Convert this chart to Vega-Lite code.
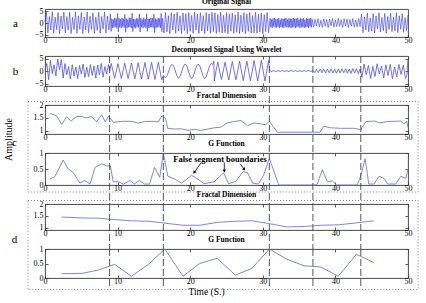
{
"$schema": "https://vega.github.io/schema/vega-lite/v6.json",
"background": "white",
"padding": {"left": 2, "top": -3, "right": 2, "bottom": 2},
"autosize": {"type": "pad"},
"datasets": {
"sa": [{"t":0.0,"v":0.5},{"t":0.2,"v":4.6},{"t":0.4,"v":-4.2},{"t":0.6,"v":2.8},{"t":0.8,"v":-3.0},{"t":1.0,"v":4.8},{"t":1.2,"v":-4.4},{"t":1.4,"v":2.5},{"t":1.6,"v":-2.8},{"t":1.8,"v":4.5},{"t":2.0,"v":-4.6},{"t":2.2,"v":3.0},{"t":2.4,"v":-2.6},{"t":2.6,"v":4.7},{"t":2.8,"v":-4.3},{"t":3.0,"v":2.7},{"t":3.2,"v":-3.1},{"t":3.4,"v":4.6},{"t":3.6,"v":-4.5},{"t":3.8,"v":2.4},{"t":4.0,"v":-2.9},{"t":4.2,"v":4.8},{"t":4.4,"v":-4.4},{"t":4.6,"v":3.1},{"t":4.8,"v":-2.7},{"t":5.0,"v":4.5},{"t":5.2,"v":-4.6},{"t":5.4,"v":2.6},{"t":5.6,"v":-3.0},{"t":5.8,"v":4.7},{"t":6.0,"v":-4.2},{"t":6.2,"v":2.9},{"t":6.4,"v":-2.8},{"t":6.6,"v":4.4},{"t":6.8,"v":-4.5},{"t":7.0,"v":2.5},{"t":7.2,"v":-3.2},{"t":7.4,"v":4.6},{"t":7.6,"v":-4.3},{"t":7.8,"v":2.8},{"t":8.0,"v":-2.6},{"t":8.2,"v":4.7},{"t":8.4,"v":-4.4},{"t":8.6,"v":3.0},{"t":8.8,"v":-2.9},
{"t":8.9,"v":0.3},{"t":9.0,"v":3.9},{"t":9.1,"v":-3.6},{"t":9.2,"v":1.8},{"t":9.3,"v":-2.1},{"t":9.4,"v":1.5},{"t":9.5,"v":-1.9},{"t":9.6,"v":2.2},{"t":9.7,"v":-1.6},{"t":9.8,"v":1.9},{"t":9.9,"v":-2.3},{"t":10.0,"v":4.1},{"t":10.1,"v":-3.8},{"t":10.2,"v":2.0},{"t":10.3,"v":-1.8},{"t":10.4,"v":1.6},{"t":10.5,"v":-2.2},{"t":10.6,"v":2.1},{"t":10.7,"v":-1.5},{"t":10.8,"v":1.8},{"t":10.9,"v":-2.0},{"t":11.0,"v":3.7},{"t":11.1,"v":-4.0},{"t":11.2,"v":1.9},{"t":11.3,"v":-2.2},{"t":11.4,"v":1.4},{"t":11.5,"v":-1.8},{"t":11.6,"v":2.3},{"t":11.7,"v":-1.7},{"t":11.8,"v":2.0},{"t":11.9,"v":-2.1},{"t":12.0,"v":4.2},{"t":12.1,"v":-3.7},{"t":12.2,"v":1.7},{"t":12.3,"v":-2.0},{"t":12.4,"v":1.6},{"t":12.5,"v":-2.3},{"t":12.6,"v":2.0},{"t":12.7,"v":-1.6},{"t":12.8,"v":1.9},{"t":12.9,"v":-1.9},{"t":13.0,"v":3.9},{"t":13.1,"v":-3.9},{"t":13.2,"v":2.1},{"t":13.3,"v":-1.8},{"t":13.4,"v":1.5},{"t":13.5,"v":-2.1},{"t":13.6,"v":2.2},{"t":13.7,"v":-1.5},{"t":13.8,"v":1.8},{"t":13.9,"v":-2.2},{"t":14.0,"v":4.0},{"t":14.1,"v":-3.6},{"t":14.2,"v":1.8},{"t":14.3,"v":-2.1},{"t":14.4,"v":1.7},{"t":14.5,"v":-1.9},{"t":14.6,"v":2.1},{"t":14.7,"v":-1.7},{"t":14.8,"v":2.0},{"t":14.9,"v":-2.0},{"t":15.0,"v":3.8},{"t":15.1,"v":-4.1},{"t":15.2,"v":1.9},{"t":15.3,"v":-2.2},{"t":15.4,"v":1.5},{"t":15.5,"v":-1.8},{"t":15.6,"v":2.2},{"t":15.7,"v":-1.6},{"t":15.8,"v":1.9},{"t":15.9,"v":-2.1},{"t":16.0,"v":4.1},{"t":16.1,"v":-3.8},{"t":16.2,"v":2.0},
{"t":16.4,"v":-4.3},{"t":16.6,"v":4.5},{"t":16.8,"v":-3.8},{"t":17.0,"v":3.2},{"t":17.2,"v":-4.6},{"t":17.4,"v":4.4},{"t":17.6,"v":-3.0},{"t":17.8,"v":3.9},{"t":18.0,"v":-4.4},{"t":18.2,"v":4.6},{"t":18.4,"v":-3.5},{"t":18.6,"v":3.1},{"t":18.8,"v":-4.5},{"t":19.0,"v":4.3},{"t":19.2,"v":-3.2},{"t":19.4,"v":4.0},{"t":19.6,"v":-4.6},{"t":19.8,"v":4.5},{"t":20.0,"v":-3.6},{"t":20.2,"v":3.3},{"t":20.4,"v":-4.4},{"t":20.6,"v":4.6},{"t":20.8,"v":-3.1},{"t":21.0,"v":3.8},{"t":21.2,"v":-4.5},{"t":21.4,"v":4.4},{"t":21.6,"v":-3.4},{"t":21.8,"v":3.2},{"t":22.0,"v":-4.6},{"t":22.2,"v":4.5},{"t":22.4,"v":-3.3},{"t":22.6,"v":3.9},{"t":22.8,"v":-4.4},{"t":23.0,"v":4.6},{"t":23.2,"v":-3.7},
{"t":23.4,"v":4.4},{"t":23.6,"v":-4.5},{"t":23.8,"v":3.6},{"t":24.0,"v":-3.9},{"t":24.2,"v":4.6},{"t":24.4,"v":-4.3},{"t":24.6,"v":3.3},{"t":24.8,"v":-4.1},{"t":25.0,"v":4.5},{"t":25.2,"v":-4.6},{"t":25.4,"v":3.8},{"t":25.6,"v":-3.5},{"t":25.8,"v":4.3},{"t":26.0,"v":-4.4},{"t":26.2,"v":3.5},{"t":26.4,"v":-4.0},{"t":26.6,"v":4.6},{"t":26.8,"v":-4.5},{"t":27.0,"v":3.4},{"t":27.2,"v":-3.8},{"t":27.4,"v":4.4},{"t":27.6,"v":-4.6},{"t":27.8,"v":3.9},{"t":28.0,"v":-3.6},{"t":28.2,"v":4.5},{"t":28.4,"v":-4.3},{"t":28.6,"v":3.2},{"t":28.8,"v":-4.2},{"t":29.0,"v":4.6},{"t":29.2,"v":-4.4},{"t":29.4,"v":3.7},{"t":29.6,"v":-3.9},{"t":29.8,"v":4.3},{"t":30.0,"v":-4.6},{"t":30.2,"v":3.6},{"t":30.4,"v":-3.7},{"t":30.6,"v":4.5},{"t":30.8,"v":-4.2},
{"t":31.0,"v":2.0},{"t":31.1,"v":-1.8},{"t":31.2,"v":1.5},{"t":31.3,"v":-2.1},{"t":31.4,"v":1.9},{"t":31.5,"v":-1.4},{"t":31.6,"v":2.2},{"t":31.7,"v":-1.9},{"t":31.8,"v":1.6},{"t":31.9,"v":-2.0},{"t":32.0,"v":1.8},{"t":32.1,"v":-1.6},{"t":32.2,"v":2.1},{"t":32.3,"v":-2.2},{"t":32.4,"v":1.4},{"t":32.5,"v":-1.7},{"t":32.6,"v":2.0},{"t":32.7,"v":-1.9},{"t":32.8,"v":1.7},{"t":32.9,"v":-2.1},{"t":33.0,"v":1.9},{"t":33.1,"v":-1.5},{"t":33.2,"v":2.2},{"t":33.3,"v":-1.8},{"t":33.4,"v":1.5},{"t":33.5,"v":-2.0},{"t":33.6,"v":2.0},{"t":33.7,"v":-1.7},{"t":33.8,"v":1.8},{"t":33.9,"v":-2.2},{"t":34.0,"v":1.6},{"t":34.1,"v":-1.9},{"t":34.2,"v":2.1},{"t":34.3,"v":-1.6},{"t":34.4,"v":1.7},{"t":34.5,"v":-2.1},{"t":34.6,"v":1.9},{"t":34.7,"v":-1.8},{"t":34.8,"v":2.2},{"t":34.9,"v":-1.5},{"t":35.0,"v":1.5},{"t":35.1,"v":-2.0},{"t":35.2,"v":2.0},{"t":35.3,"v":-1.9},{"t":35.4,"v":1.8},{"t":35.5,"v":-1.6},{"t":35.6,"v":2.1},{"t":35.7,"v":-2.1},{"t":35.8,"v":1.4},{"t":35.9,"v":-1.8},{"t":36.0,"v":2.0},{"t":36.1,"v":-1.7},{"t":36.2,"v":1.7},{"t":36.3,"v":-2.2},{"t":36.4,"v":1.9},{"t":36.5,"v":-1.5},{"t":36.6,"v":2.2},{"t":36.7,"v":-1.9},{"t":36.8,"v":1.6},
{"t":37.0,"v":-1.8},{"t":37.2,"v":1.6},{"t":37.4,"v":-1.3},{"t":37.6,"v":1.9},{"t":37.8,"v":-1.7},{"t":38.0,"v":1.2},{"t":38.2,"v":-1.9},{"t":38.4,"v":1.8},{"t":38.6,"v":-1.4},{"t":38.8,"v":1.5},{"t":39.0,"v":-2.0},{"t":39.2,"v":1.7},{"t":39.4,"v":-1.2},{"t":39.6,"v":1.9},{"t":39.8,"v":-1.8},{"t":40.0,"v":1.3},{"t":40.2,"v":-1.6},{"t":40.4,"v":2.0},{"t":40.6,"v":-1.5},{"t":40.8,"v":1.4},{"t":41.0,"v":-1.9},{"t":41.2,"v":1.8},{"t":41.4,"v":-1.3},{"t":41.6,"v":1.7},{"t":41.8,"v":-2.0},{"t":42.0,"v":1.5},{"t":42.2,"v":-1.4},{"t":42.4,"v":1.9},{"t":42.6,"v":-1.8},{"t":42.8,"v":1.3},{"t":43.0,"v":-1.7},{"t":43.2,"v":2.0},{"t":43.4,"v":-1.6},
{"t":43.6,"v":3.8},{"t":43.8,"v":-4.2},{"t":44.0,"v":2.6},{"t":44.2,"v":-3.0},{"t":44.4,"v":4.3},{"t":44.6,"v":-3.8},{"t":44.8,"v":2.2},{"t":45.0,"v":-3.5},{"t":45.2,"v":4.0},{"t":45.4,"v":-4.3},{"t":45.6,"v":3.0},{"t":45.8,"v":-2.6},{"t":46.0,"v":4.4},{"t":46.2,"v":-3.9},{"t":46.4,"v":2.4},{"t":46.6,"v":-3.3},{"t":46.8,"v":4.1},{"t":47.0,"v":-4.4},{"t":47.2,"v":2.8},{"t":47.4,"v":-2.8},{"t":47.6,"v":4.2},{"t":47.8,"v":-3.7},{"t":48.0,"v":2.5},{"t":48.2,"v":-3.4},{"t":48.4,"v":4.4},{"t":48.6,"v":-4.2},{"t":48.8,"v":3.1},{"t":49.0,"v":-2.7},{"t":49.2,"v":4.0},{"t":49.4,"v":-4.0},{"t":49.6,"v":2.3},{"t":49.8,"v":-3.2},{"t":50.0,"v":3.5}],
"sb": [{"t":0.0,"v":0.5},{"t":0.25,"v":3.0},{"t":0.5,"v":-3.5},{"t":0.75,"v":4.3},{"t":1.0,"v":-1.0},{"t":1.25,"v":2.5},{"t":1.5,"v":-2.0},{"t":1.75,"v":4.8},{"t":2.0,"v":0.5},{"t":2.25,"v":4.6},{"t":2.5,"v":-2.8},{"t":2.75,"v":3.0},{"t":3.0,"v":-1.5},{"t":3.25,"v":1.8},{"t":3.5,"v":-3.2},{"t":3.75,"v":2.5},{"t":4.0,"v":-2.0},{"t":4.25,"v":1.6},{"t":4.5,"v":-3.0},{"t":4.75,"v":2.2},{"t":5.0,"v":-1.2},{"t":5.25,"v":2.8},{"t":5.5,"v":-2.6},{"t":5.75,"v":1.5},{"t":6.0,"v":-2.2},{"t":6.25,"v":2.6},{"t":6.5,"v":-1.8},{"t":6.75,"v":2.0},{"t":7.0,"v":-2.8},{"t":7.25,"v":2.4},{"t":7.5,"v":-1.5},{"t":7.75,"v":3.0},{"t":8.0,"v":-2.5},{"t":8.25,"v":1.8},{"t":8.5,"v":-1.2},{"t":8.75,"v":2.6},
{"t":8.9,"v":0.0},{"t":9.13,"v":3.0},{"t":9.36,"v":0.0},{"t":9.59,"v":-2.9},{"t":9.83,"v":0.0},{"t":10.06,"v":3.0},{"t":10.29,"v":0.0},{"t":10.52,"v":-3.0},{"t":10.75,"v":0.0},{"t":10.98,"v":3.1},{"t":11.21,"v":0.0},{"t":11.44,"v":-3.0},{"t":11.68,"v":0.0},{"t":11.91,"v":3.2},{"t":12.14,"v":0.0},{"t":12.37,"v":-3.1},{"t":12.6,"v":0.0},{"t":12.83,"v":3.3},{"t":13.06,"v":0.0},{"t":13.29,"v":-3.2},{"t":13.53,"v":0.0},{"t":13.76,"v":3.4},{"t":13.99,"v":0.0},{"t":14.22,"v":-3.3},{"t":14.45,"v":0.0},{"t":14.68,"v":3.5},{"t":14.91,"v":0.0},{"t":15.14,"v":-3.4},{"t":15.38,"v":0.0},{"t":15.61,"v":3.5},{"t":15.84,"v":0.0},{"t":16.07,"v":-3.5},
{"t":16.3,"v":-1.8},{"t":16.6,"v":-2.7},{"t":16.83,"v":-1.9},{"t":17.05,"v":0.0},{"t":17.28,"v":1.9},{"t":17.5,"v":2.7},{"t":17.73,"v":1.9},{"t":17.95,"v":0.0},{"t":18.18,"v":-2.0},{"t":18.4,"v":-2.9},{"t":18.63,"v":-2.0},{"t":18.85,"v":0.0},{"t":19.08,"v":2.0},{"t":19.3,"v":2.8},{"t":19.53,"v":2.0},{"t":19.75,"v":0.0},{"t":19.98,"v":-2.1},{"t":20.2,"v":-3.0},{"t":20.43,"v":-2.1},{"t":20.65,"v":0.0},{"t":20.88,"v":2.0},{"t":21.1,"v":2.8},{"t":21.33,"v":2.0},{"t":21.55,"v":0.0},{"t":21.78,"v":-2.1},{"t":22.0,"v":-3.0},{"t":22.23,"v":-2.1},{"t":22.45,"v":0.0},{"t":22.68,"v":2.1},{"t":22.9,"v":3.0},{"t":23.1,"v":2.6},{"t":23.25,"v":4.0},
{"t":23.32,"v":-4.0},{"t":23.55,"v":0.0},{"t":23.8,"v":3.6},{"t":24.05,"v":0.0},{"t":24.3,"v":-3.4},{"t":24.55,"v":0.0},{"t":24.8,"v":3.5},{"t":25.05,"v":0.0},{"t":25.3,"v":-3.6},{"t":25.55,"v":0.0},{"t":25.8,"v":3.8},{"t":26.05,"v":0.0},{"t":26.3,"v":-3.5},{"t":26.55,"v":0.0},{"t":26.8,"v":4.0},{"t":27.05,"v":0.0},{"t":27.3,"v":-3.8},{"t":27.55,"v":0.0},{"t":27.8,"v":4.0},{"t":28.05,"v":0.0},{"t":28.3,"v":-3.9},{"t":28.55,"v":0.0},{"t":28.8,"v":4.2},{"t":29.05,"v":0.0},{"t":29.3,"v":-4.0},{"t":29.55,"v":0.0},{"t":29.8,"v":4.3},{"t":30.05,"v":0.0},{"t":30.3,"v":-4.0},{"t":30.55,"v":0.0},{"t":30.8,"v":4.2},{"t":30.95,"v":0.2},
{"t":31.2,"v":-0.2},{"t":31.5,"v":0.15},{"t":31.8,"v":-0.2},{"t":32.1,"v":0.2},{"t":32.4,"v":-0.15},{"t":32.7,"v":0.2},{"t":33.0,"v":-0.2},{"t":33.3,"v":0.15},{"t":33.6,"v":-0.2},{"t":33.9,"v":0.2},{"t":34.2,"v":-0.15},{"t":34.5,"v":0.2},{"t":34.8,"v":-0.2},{"t":35.1,"v":0.15},{"t":35.4,"v":-0.2},{"t":35.7,"v":0.2},{"t":36.0,"v":-0.15},{"t":36.3,"v":0.2},{"t":36.6,"v":-0.2},{"t":36.9,"v":0.2},
{"t":37.15,"v":-0.6},{"t":37.4,"v":0.7},{"t":37.65,"v":-0.6},{"t":37.9,"v":0.8},{"t":38.15,"v":-0.7},{"t":38.4,"v":0.7},{"t":38.65,"v":-0.8},{"t":38.9,"v":0.8},{"t":39.15,"v":-0.7},{"t":39.4,"v":0.9},{"t":39.65,"v":-0.8},{"t":39.9,"v":0.7},{"t":40.15,"v":-0.9},{"t":40.4,"v":0.8},{"t":40.65,"v":-0.8},{"t":40.9,"v":0.9},{"t":41.15,"v":-0.7},{"t":41.4,"v":0.9},{"t":41.65,"v":-0.9},{"t":41.9,"v":0.8},{"t":42.15,"v":-0.9},{"t":42.4,"v":1.0},{"t":42.65,"v":-0.8},{"t":42.9,"v":0.9},{"t":43.15,"v":-1.0},{"t":43.4,"v":0.8},
{"t":43.65,"v":-2.5},{"t":43.95,"v":2.8},{"t":44.25,"v":-1.5},{"t":44.55,"v":2.2},{"t":44.85,"v":-3.0},{"t":45.15,"v":1.8},{"t":45.45,"v":-2.2},{"t":45.75,"v":2.9},{"t":46.05,"v":-1.2},{"t":46.35,"v":2.0},{"t":46.65,"v":-2.8},{"t":46.95,"v":2.5},{"t":47.25,"v":-1.8},{"t":47.55,"v":2.7},{"t":47.85,"v":-3.1},{"t":48.15,"v":1.6},{"t":48.45,"v":-2.4},{"t":48.75,"v":2.6},{"t":49.05,"v":-1.4},{"t":49.35,"v":2.3},{"t":49.65,"v":-3.0},{"t":49.85,"v":-1.5},{"t":50.0,"v":4.6}],
"fc": [{"t":0.7,"v":1.68},{"t":1.6,"v":1.58},{"t":2.3,"v":1.25},{"t":3.0,"v":1.55},{"t":3.6,"v":1.38},{"t":4.3,"v":1.55},{"t":5.0,"v":1.56},{"t":5.7,"v":1.5},{"t":6.4,"v":1.55},{"t":7.1,"v":1.35},{"t":7.8,"v":1.62},{"t":8.3,"v":1.35},{"t":8.8,"v":1.58},{"t":9.4,"v":1.33},{"t":10.7,"v":1.37},{"t":11.9,"v":1.37},{"t":12.8,"v":1.3},{"t":13.7,"v":1.36},{"t":14.9,"v":1.37},{"t":15.6,"v":1.35},{"t":16.1,"v":1.58},{"t":16.6,"v":1.48},{"t":16.9,"v":1.1},{"t":17.9,"v":1.07},{"t":18.8,"v":1.08},{"t":19.7,"v":1.02},{"t":20.6,"v":1.06},{"t":21.5,"v":1.02},{"t":22.4,"v":1.07},{"t":23.3,"v":1.12},{"t":24.2,"v":1.14},{"t":25.1,"v":1.31},{"t":26.0,"v":1.36},{"t":27.0,"v":1.4},{"t":27.9,"v":1.2},{"t":28.8,"v":1.31},{"t":29.7,"v":1.27},{"t":30.4,"v":1.24},{"t":30.9,"v":1.37},{"t":32.0,"v":0.95},{"t":37.9,"v":0.95},{"t":38.4,"v":1.18},{"t":39.3,"v":1.12},{"t":40.7,"v":1.1},{"t":42.5,"v":1.1},{"t":43.5,"v":1.05},{"t":44.2,"v":1.36},{"t":45.4,"v":1.38},{"t":46.0,"v":1.31},{"t":47.2,"v":1.36},{"t":49.0,"v":1.38},{"t":49.5,"v":1.27},{"t":49.8,"v":1.37},{"t":50.0,"v":1.14}],
"gc": [{"t":0.65,"v":0.19},{"t":1.35,"v":0.26},{"t":2.5,"v":0.78},{"t":3.2,"v":0.5},{"t":3.9,"v":0.39},{"t":4.8,"v":0.06},{"t":5.5,"v":0.14},{"t":6.2,"v":0.03},{"t":6.9,"v":0.55},{"t":7.8,"v":0.66},{"t":8.5,"v":0.6},{"t":9.0,"v":0.6},{"t":9.4,"v":0.1},{"t":10.1,"v":0.1},{"t":10.8,"v":0.03},{"t":11.7,"v":0.14},{"t":12.3,"v":0.03},{"t":13.0,"v":0.14},{"t":13.7,"v":0.03},{"t":14.4,"v":0.03},{"t":15.1,"v":0.55},{"t":15.8,"v":0.24},{"t":16.3,"v":1.0},{"t":16.9,"v":0.28},{"t":17.9,"v":0.18},{"t":18.8,"v":0.06},{"t":20.2,"v":0.3},{"t":21.1,"v":0.18},{"t":21.9,"v":0.04},{"t":23.3,"v":0.1},{"t":24.6,"v":0.38},{"t":25.3,"v":0.04},{"t":26.3,"v":0.12},{"t":27.3,"v":0.42},{"t":27.9,"v":0.38},{"t":28.6,"v":0.06},{"t":29.4,"v":0.03},{"t":30.1,"v":0.3},{"t":30.9,"v":0.83},{"t":32.2,"v":0.0},{"t":37.2,"v":0.0},{"t":37.5,"v":0.03},{"t":38.2,"v":0.48},{"t":38.9,"v":0.1},{"t":39.6,"v":0.13},{"t":40.1,"v":0.0},{"t":43.0,"v":0.0},{"t":43.5,"v":0.29},{"t":44.1,"v":0.82},{"t":44.6,"v":0.03},{"t":45.3,"v":0.03},{"t":46.0,"v":0.27},{"t":46.7,"v":0.21},{"t":47.2,"v":0.03},{"t":48.3,"v":0.03},{"t":49.0,"v":0.27},{"t":49.7,"v":0.21},{"t":50.0,"v":0.5}],
"fd": [{"t":2.3,"v":1.45},{"t":5.1,"v":1.41},{"t":7.3,"v":1.4},{"t":9.6,"v":1.34},{"t":11.9,"v":1.29},{"t":14.3,"v":1.27},{"t":16.5,"v":1.19},{"t":19.0,"v":1.1},{"t":21.3,"v":1.1},{"t":23.7,"v":1.22},{"t":26.2,"v":1.27},{"t":28.5,"v":1.29},{"t":30.9,"v":1.17},{"t":33.3,"v":1.03},{"t":35.7,"v":1.05},{"t":38.0,"v":1.1},{"t":40.4,"v":1.12},{"t":42.9,"v":1.2},{"t":45.3,"v":1.29}],
"gd": [{"t":2.3,"v":0.15},{"t":5.1,"v":0.16},{"t":7.3,"v":0.27},{"t":9.6,"v":0.47},{"t":11.9,"v":0.06},{"t":14.3,"v":0.48},{"t":16.5,"v":1.0},{"t":19.0,"v":0.06},{"t":21.3,"v":0.5},{"t":23.7,"v":0.68},{"t":26.2,"v":0.1},{"t":28.5,"v":0.33},{"t":30.9,"v":1.0},{"t":33.3,"v":0.65},{"t":35.7,"v":0.42},{"t":38.0,"v":0.38},{"t":40.4,"v":0.06},{"t":42.9,"v":0.82},{"t":45.3,"v":0.53}],
"bd": [{"t":8.9},{"t":16.3},{"t":30.9},{"t":36.9},{"t":43.5}],
"ar": [{"t":21.5,"v":0.7,"t2":20.6,"v2":0.4},{"t":24.7,"v":0.7,"t2":24.7,"v2":0.45},{"t":26.9,"v":0.66,"t2":27.4,"v2":0.5}]
},
"bounds": "flush",
"spacing": 19,
"vconcat": [
 {"width": 363, "height": 28, "title": {"text": "Original Signal"},
  "data": {"name": "sa"},
  "mark": {"type": "line", "color": "#3434e4", "strokeWidth": 0.6},
  "encoding": {
   "x": {"field": "t", "type": "quantitative", "scale": {"domain": [0, 50], "nice": false, "zero": false}, "axis": {"values": [0,10,20,30,40,50], "title": null, "format": "d", "labelPadding": 2}},
   "y": {"field": "v", "type": "quantitative", "scale": {"domain": [-6, 6], "nice": false}, "axis": {"values": [-5,0,5], "format": "d", "title": "a", "titleAngle": 0, "titleX": -30, "titleY": 14, "titleFontSize": 11, "titleAlign": "center", "titleBaseline": "middle"}}
  }},
 {"width": 363, "height": 30, "title": {"text": "Decomposed Signal Using Wavelet"},
  "resolve": {"axis": {"x": "independent", "y": "independent"}},
  "layer": [
   {"data": {"name": "sb"},
    "mark": {"type": "line", "color": "#5252d6", "strokeWidth": 0.8},
    "encoding": {
     "x": {"field": "t", "type": "quantitative", "scale": {"domain": [0, 50], "nice": false, "zero": false}, "axis": {"values": [0,10,20,30,40,50], "title": null, "format": "d", "labelPadding": 2}},
     "y": {"field": "v", "type": "quantitative", "scale": {"domain": [-6, 6], "nice": false}, "axis": {"values": [-5,0,5], "format": "d", "title": "b", "titleAngle": 0, "titleX": -30, "titleY": 15, "titleFontSize": 11, "titleAlign": "center", "titleBaseline": "middle"}}
    }},
   {"data": {"name": "bd"},
    "mark": {"type": "rule", "color": "#444444", "strokeWidth": 0.9, "strokeDash": [7, 3]},
    "encoding": {
     "x": {"field": "t", "type": "quantitative", "scale": {"domain": [0, 50], "nice": false, "zero": false}, "axis": {"orient": "top", "values": [0,10,20,30,40,50], "labels": false, "title": null}},
     "y": {"datum": 6, "type": "quantitative", "scale": {"domain": [-6, 6], "nice": false}, "axis": {"orient": "right", "values": [-5,0,5], "labels": false, "title": null}},
     "y2": {"datum": -13.6}
    }}
  ]},
 {"width": 363, "height": 29, "title": {"text": "Fractal Dimension"},
  "resolve": {"axis": {"x": "independent", "y": "independent"}},
  "layer": [
   {"data": {"name": "fc"},
    "mark": {"type": "line", "color": "#7676dc", "strokeWidth": 0.9},
    "encoding": {
     "x": {"field": "t", "type": "quantitative", "scale": {"domain": [0, 50], "nice": false, "zero": false}, "axis": {"values": [0,10,20,30,40,50], "title": null, "format": "d", "labelPadding": 2}},
     "y": {"field": "v", "type": "quantitative", "scale": {"domain": [0.88, 2], "nice": false, "zero": false}, "axis": {"values": [1,1.5,2], "format": ".1~f", "title": "c", "titleAngle": 0, "titleX": -31, "titleY": 37, "titleFontSize": 11, "titleAlign": "center", "titleBaseline": "middle"}}
    }},
   {"data": {"name": "bd"},
    "mark": {"type": "rule", "color": "#444444", "strokeWidth": 0.9, "strokeDash": [7, 3]},
    "encoding": {
     "x": {"field": "t", "type": "quantitative", "scale": {"domain": [0, 50], "nice": false, "zero": false}, "axis": {"orient": "top", "values": [0,10,20,30,40,50], "labels": false, "title": null}},
     "y": {"datum": 2, "type": "quantitative", "scale": {"domain": [0.88, 2], "nice": false, "zero": false}, "axis": {"orient": "right", "values": [1,1.5,2], "labels": false, "title": "Amplitude", "titleAngle": 270, "titleX": -400, "titleY": 34, "titleFontSize": 10, "titleAlign": "center", "titleBaseline": "middle"}},
     "y2": {"datum": 0.146}
    }},
   {"data": {"values": [{}]},
    "mark": {"type": "rect", "filled": false, "stroke": "#666666", "strokeWidth": 0.8, "strokeDash": [1, 2]},
    "encoding": {
     "x": {"datum": -2.34, "type": "quantitative", "scale": {"domain": [0, 50], "nice": false, "zero": false}, "axis": null},
     "x2": {"datum": 51.4},
     "y": {"datum": 2.135, "type": "quantitative", "scale": {"domain": [0.88, 2], "nice": false, "zero": false}, "axis": null},
     "y2": {"datum": -1.36}
    }}
  ]},
 {"width": 363, "height": 32, "title": {"text": "G Function"},
  "resolve": {"axis": {"x": "independent", "y": "independent"}},
  "layer": [
   {"data": {"name": "gc"},
    "mark": {"type": "line", "color": "#7676dc", "strokeWidth": 0.9},
    "encoding": {
     "x": {"field": "t", "type": "quantitative", "scale": {"domain": [0, 50], "nice": false, "zero": false}, "axis": {"values": [0,10,20,30,40,50], "title": null, "format": "d", "labelPadding": 2}},
     "y": {"field": "v", "type": "quantitative", "scale": {"domain": [0, 1], "nice": false}, "axis": {"values": [0,0.5,1], "format": ".1~f", "title": null}}
    }},
   {"data": {"name": "bd"},
    "mark": {"type": "rule", "color": "#444444", "strokeWidth": 0.9, "strokeDash": [7, 3]},
    "encoding": {
     "x": {"field": "t", "type": "quantitative", "scale": {"domain": [0, 50], "nice": false, "zero": false}, "axis": {"orient": "top", "values": [0,10,20,30,40,50], "labels": false, "title": null}},
     "y": {"datum": 1, "type": "quantitative", "scale": {"domain": [0, 1], "nice": false}, "axis": {"orient": "right", "values": [0,0.5,1], "labels": false, "title": null}},
     "y2": {"datum": -0.594}
    }},
   {"data": {"values": [{}]},
    "mark": {"type": "text", "text": "False segment boundaries", "font": "Liberation Serif", "fontSize": 8.5, "fontWeight": "bold", "color": "#000000"},
    "encoding": {
     "x": {"datum": 24.1, "type": "quantitative", "scale": {"domain": [0, 50], "nice": false, "zero": false}, "axis": null},
     "y": {"datum": 0.82, "type": "quantitative", "scale": {"domain": [0, 1], "nice": false}, "axis": null}
    }},
   {"data": {"name": "ar"},
    "mark": {"type": "rule", "color": "#000000", "strokeWidth": 0.8},
    "encoding": {
     "x": {"field": "t", "type": "quantitative", "scale": {"domain": [0, 50], "nice": false, "zero": false}, "axis": null},
     "x2": {"field": "t2"},
     "y": {"field": "v", "type": "quantitative", "scale": {"domain": [0, 1], "nice": false}, "axis": null},
     "y2": {"field": "v2"}
    }},
   {"data": {"values": [{}]},
    "mark": {"type": "point", "shape": "triangle-down", "filled": true, "color": "#000000", "size": 12, "angle": 33, "opacity": 1},
    "encoding": {
     "x": {"datum": 20.55, "type": "quantitative", "scale": {"domain": [0, 50], "nice": false, "zero": false}, "axis": null},
     "y": {"datum": 0.39, "type": "quantitative", "scale": {"domain": [0, 1], "nice": false}, "axis": null}
    }},
   {"data": {"values": [{}]},
    "mark": {"type": "point", "shape": "triangle-down", "filled": true, "color": "#000000", "size": 12, "angle": 0, "opacity": 1},
    "encoding": {
     "x": {"datum": 24.7, "type": "quantitative", "scale": {"domain": [0, 50], "nice": false, "zero": false}, "axis": null},
     "y": {"datum": 0.44, "type": "quantitative", "scale": {"domain": [0, 1], "nice": false}, "axis": null}
    }},
   {"data": {"values": [{}]},
    "mark": {"type": "point", "shape": "triangle-down", "filled": true, "color": "#000000", "size": 12, "angle": 323, "opacity": 1},
    "encoding": {
     "x": {"datum": 27.45, "type": "quantitative", "scale": {"domain": [0, 50], "nice": false, "zero": false}, "axis": null},
     "y": {"datum": 0.49, "type": "quantitative", "scale": {"domain": [0, 1], "nice": false}, "axis": null}
    }}
  ]},
 {"width": 363, "height": 26, "title": {"text": "Fractal Dimension"},
  "resolve": {"axis": {"x": "independent", "y": "independent"}},
  "layer": [
   {"data": {"name": "fd"},
    "mark": {"type": "line", "color": "#7676dc", "strokeWidth": 0.9},
    "encoding": {
     "x": {"field": "t", "type": "quantitative", "scale": {"domain": [0, 50], "nice": false, "zero": false}, "axis": {"values": [0,10,20,30,40,50], "title": null, "format": "d", "labelPadding": 2}},
     "y": {"field": "v", "type": "quantitative", "scale": {"domain": [0.9, 2], "nice": false, "zero": false}, "axis": {"values": [1,1.5,2], "format": ".1~f", "title": "d", "titleAngle": 0, "titleX": -31, "titleY": 35, "titleFontSize": 11, "titleAlign": "center", "titleBaseline": "middle"}}
    }},
   {"data": {"name": "bd"},
    "mark": {"type": "rule", "color": "#444444", "strokeWidth": 0.9, "strokeDash": [7, 3]},
    "encoding": {
     "x": {"field": "t", "type": "quantitative", "scale": {"domain": [0, 50], "nice": false, "zero": false}, "axis": {"orient": "top", "values": [0,10,20,30,40,50], "labels": false, "title": null}},
     "y": {"datum": 2, "type": "quantitative", "scale": {"domain": [0.9, 2], "nice": false, "zero": false}, "axis": {"orient": "right", "values": [1,1.5,2], "labels": false, "title": null}},
     "y2": {"datum": 0.096}
    }},
   {"data": {"values": [{}]},
    "mark": {"type": "rect", "filled": false, "stroke": "#666666", "strokeWidth": 0.8, "strokeDash": [1, 2]},
    "encoding": {
     "x": {"datum": -2.34, "type": "quantitative", "scale": {"domain": [0, 50], "nice": false, "zero": false}, "axis": null},
     "x2": {"datum": 51.4},
     "y": {"datum": 2.148, "type": "quantitative", "scale": {"domain": [0.9, 2], "nice": false, "zero": false}, "axis": null},
     "y2": {"datum": -1.617}
    }}
  ]},
 {"width": 363, "height": 29, "title": {"text": "G Function"},
  "resolve": {"axis": {"x": "independent", "y": "independent"}},
  "layer": [
   {"data": {"name": "gd"},
    "mark": {"type": "line", "color": "#7676dc", "strokeWidth": 0.9},
    "encoding": {
     "x": {"field": "t", "type": "quantitative", "scale": {"domain": [0, 50], "nice": false, "zero": false}, "axis": {"values": [0,10,20,30,40,50], "format": "d", "labelPadding": 2, "title": "Time (S.)", "titleFontSize": 9.5, "titlePadding": 1, "titleX": 161, "titleAlign": "center"}},
     "y": {"field": "v", "type": "quantitative", "scale": {"domain": [0, 1], "nice": false}, "axis": {"values": [0,0.5,1], "format": ".1~f", "title": null}}
    }},
   {"data": {"name": "bd"},
    "mark": {"type": "rule", "color": "#444444", "strokeWidth": 0.9, "strokeDash": [7, 3]},
    "encoding": {
     "x": {"field": "t", "type": "quantitative", "scale": {"domain": [0, 50], "nice": false, "zero": false}, "axis": {"orient": "top", "values": [0,10,20,30,40,50], "labels": false, "title": null}},
     "y": {"datum": 1, "type": "quantitative", "scale": {"domain": [0, 1], "nice": false}, "axis": {"orient": "right", "values": [0,0.5,1], "labels": false, "title": null}},
     "y2": {"datum": -0.31}
    }}
  ]}
],
"config": {
 "view": {"stroke": "#333333", "strokeWidth": 0.9},
 "font": "Liberation Serif",
 "axis": {"labelFont": "Liberation Serif", "labelFontSize": 8, "labelColor": "#000000", "labelFlush": false, "labelOverlap": false, "grid": false, "domain": false, "tickColor": "#333333", "tickSize": -3, "tickWidth": 0.8, "labelPadding": 5, "titleFont": "Liberation Serif", "titleFontWeight": "normal", "titleColor": "#000000"},
 "title": {"font": "Liberation Serif", "fontSize": 7.5, "fontWeight": "bold", "color": "#000000", "offset": 1.5, "anchor": "middle"}
}
}
